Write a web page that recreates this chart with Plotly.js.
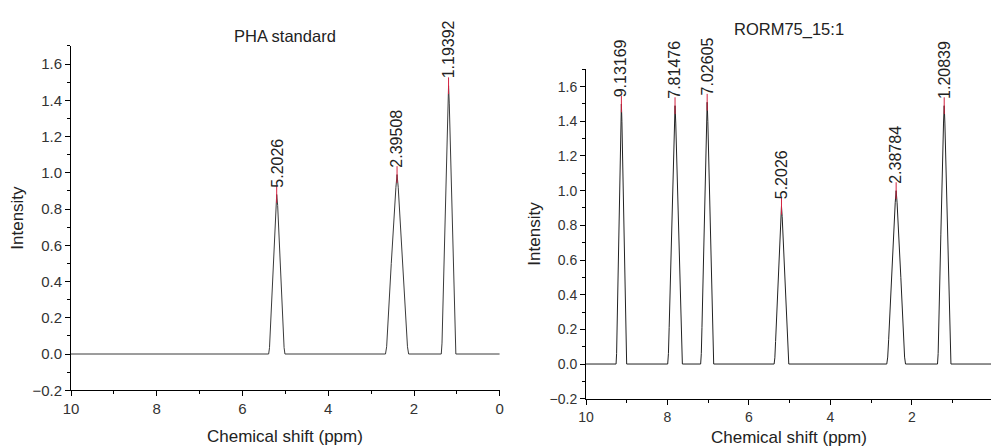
<!DOCTYPE html>
<html>
<head>
<meta charset="utf-8">
<script src="https://cdn.plot.ly/plotly-3.0.1.min.js"></script>
<style>
  html, body { margin: 0; padding: 0; background: #ffffff; }
  #chart { width: 991px; height: 448px; }
</style>
</head>
<body>
<div id="chart"></div>
<script>
// ---------- DATA ----------
// Panel 1: PHA standard spectrum
const phaShift = [10, 5.39, 5.37, 5.35, 5.30, 5.22, 5.2026, 5.18, 5.11, 5.05, 5.03, 5.01,
  2.665, 2.638, 2.611, 2.53, 2.422, 2.39508, 2.368, 2.26, 2.179, 2.152, 2.125,
  1.364, 1.347, 1.33, 1.279, 1.211, 1.19392, 1.177, 1.109, 1.058, 1.041, 1.024, 0];
const phaIntensity = [0, 0, 0.035, 0.13, 0.44, 0.82, 0.88, 0.82, 0.44, 0.13, 0.035, 0,
  0, 0.04, 0.14, 0.5, 0.92, 0.99, 0.92, 0.5, 0.14, 0.04, 0,
  0, 0.06, 0.21, 0.74, 1.38, 1.48, 1.38, 0.74, 0.21, 0.06, 0, 0];
const phaPeakShift = [5.2026, 2.39508, 1.19392];
const phaPeakIntensity = [0.88, 0.99, 1.48];
const phaPeakLabels = ["5.2026", "2.39508", "1.19392"];

// Panel 2: RORM75_15:1 spectrum
const rormShift = [10, 9.262, 9.249, 9.236, 9.197, 9.145, 9.13169, 9.119, 9.067, 9.028, 9.015, 9.002,
  7.995, 7.977, 7.959, 7.905, 7.833, 7.81476, 7.797, 7.725, 7.671, 7.653, 7.635,
  7.186, 7.170, 7.154, 7.106, 7.042, 7.02605, 7.010, 6.946, 6.898, 6.882, 6.866,
  5.383, 5.365, 5.347, 5.293, 5.221, 5.2026, 5.185, 5.113, 5.059, 5.041, 5.023,
  2.618, 2.595, 2.572, 2.503, 2.411, 2.38784, 2.365, 2.273, 2.204, 2.181, 2.158,
  1.373, 1.357, 1.340, 1.291, 1.225, 1.20839, 1.192, 1.126, 1.076, 1.060, 1.043, 0];
const rormIntensity = [0, 0, 0.06, 0.21, 0.75, 1.40, 1.50, 1.40, 0.75, 0.21, 0.06, 0,
  0, 0.06, 0.21, 0.745, 1.39, 1.49, 1.39, 0.745, 0.21, 0.06, 0,
  0, 0.06, 0.21, 0.755, 1.40, 1.51, 1.40, 0.755, 0.21, 0.06, 0,
  0, 0.036, 0.13, 0.455, 0.85, 0.91, 0.85, 0.455, 0.13, 0.036, 0,
  0, 0.04, 0.14, 0.5, 0.93, 1.0, 0.93, 0.5, 0.14, 0.04, 0,
  0, 0.06, 0.21, 0.745, 1.39, 1.49, 1.39, 0.745, 0.21, 0.06, 0, 0];
const rormPeakShift = [9.13169, 7.81476, 7.02605, 5.2026, 2.38784, 1.20839];
const rormPeakIntensity = [1.50, 1.49, 1.51, 0.91, 1.0, 1.49];
const rormPeakLabels = ["9.13169", "7.81476", "7.02605", "5.2026", "2.38784", "1.20839"];

const panelTitles = ["PHA standard", "RORM75_15:1"];
const xTitle = "Chemical shift (ppm)";
const yTitle = "Intensity";

// ---------- STYLE ----------
const FONT = "'Liberation Sans', Arial, sans-serif";
const W = 991, H = 448;
const RED = '#d3213f';
const px2x = p => p / W;
const px2y = p => (H - p) / H;

const traces = [
  { x: phaShift, y: phaIntensity, xaxis: 'x', yaxis: 'y', type: 'scatter', mode: 'lines',
    line: { color: '#3a3a3a', width: 1 }, hoverinfo: 'skip' },
  { x: rormShift, y: rormIntensity, xaxis: 'x2', yaxis: 'y2', type: 'scatter', mode: 'lines',
    line: { color: '#222222', width: 1 }, hoverinfo: 'skip' },
  // red peak-pick tick marks
  { x: phaPeakShift, y: phaPeakIntensity, xaxis: 'x', yaxis: 'y', type: 'scatter', mode: 'markers',
    marker: { symbol: 'line-ns-open', size: 12, color: RED, line: { color: RED, width: 1 } }, hoverinfo: 'skip' },
  { x: rormPeakShift, y: rormPeakIntensity, xaxis: 'x2', yaxis: 'y2', type: 'scatter', mode: 'markers',
    marker: { symbol: 'line-ns-open', size: 12, color: RED, line: { color: RED, width: 1 } }, hoverinfo: 'skip' }
];

function xAxis(domain, range, anchor, fs) {
  return {
    domain: domain, range: range, anchor: anchor,
    tick0: 0, dtick: 2, ticks: 'outside', ticklen: 5, tickwidth: 1, tickcolor: '#000',
    showline: true, linecolor: '#000', linewidth: 1, showgrid: false, zeroline: false,
    minor: { dtick: 1, tick0: 0, ticks: 'outside', ticklen: 3, tickwidth: 1, tickcolor: '#000', showgrid: false },
    tickfont: { family: FONT, size: fs, color: '#333' },
    fixedrange: true
  };
}
function yAxis(domain, anchor, fs, standoff) {
  return {
    domain: domain, range: [-0.2, 1.7], anchor: anchor,
    tick0: 0, dtick: 0.2, tickformat: '.1f', ticks: 'outside', ticklen: 5, tickwidth: 1, tickcolor: '#000',
    showline: true, linecolor: '#000', linewidth: 1, showgrid: false, zeroline: false,
    minor: { dtick: 0.1, tick0: 0, ticks: 'outside', ticklen: 3, tickwidth: 1, tickcolor: '#000', showgrid: false },
    tickfont: { family: FONT, size: fs, color: '#333' },
    title: { text: yTitle, font: { family: FONT, size: 17, color: '#222' }, standoff: standoff },
    fixedrange: true
  };
}

const annotations = [];
function addPeakLabels(xs, ys, labels, xref, yref) {
  for (let i = 0; i < xs.length; i++) {
    annotations.push({
      x: xs[i], y: ys[i], xref: xref, yref: yref,
      text: labels[i], textangle: -90, showarrow: false,
      xanchor: 'center', yanchor: 'bottom', yshift: 6, borderpad: 0,
      font: { family: FONT, size: 16, color: '#222' }
    });
  }
}
addPeakLabels(phaPeakShift, phaPeakIntensity, phaPeakLabels, 'x', 'y');
addPeakLabels(rormPeakShift, rormPeakIntensity, rormPeakLabels, 'x2', 'y2');

// panel titles
annotations.push({
  xref: 'x domain', yref: 'paper', x: 0.5, y: px2y(36), xanchor: 'center', yanchor: 'middle',
  text: panelTitles[0], showarrow: false, font: { family: FONT, size: 16.5, color: '#222' }
});
annotations.push({
  xref: 'x2 domain', yref: 'paper', x: 0.5, y: px2y(29), xanchor: 'center', yanchor: 'middle',
  text: panelTitles[1], showarrow: false, font: { family: FONT, size: 16.5, color: '#222' }
});
// x-axis titles
annotations.push({
  xref: 'x domain', yref: 'paper', x: 0.5, y: px2y(436), xanchor: 'center', yanchor: 'middle',
  text: xTitle, showarrow: false, font: { family: FONT, size: 17, color: '#222' }
});
annotations.push({
  xref: 'x2 domain', yref: 'paper', x: 0.5, y: px2y(437), xanchor: 'center', yanchor: 'middle',
  text: xTitle, showarrow: false, font: { family: FONT, size: 17, color: '#222' }
});

const layout = {
  width: W, height: H,
  margin: { l: 0, r: 0, t: 0, b: 0 },
  paper_bgcolor: '#ffffff', plot_bgcolor: 'rgba(0,0,0,0)',
  showlegend: false, hovermode: false,
  xaxis: xAxis([px2x(71), px2x(499.75)], [10, 0], 'y', 15),
  yaxis: yAxis([px2y(390.25), px2y(45.9)], 'x', 15, 4),
  xaxis2: xAxis([px2x(586), 1], [10, 0.06], 'y2', 14),
  yaxis2: yAxis([px2y(398.7), px2y(69.3)], 'x2', 14, 4),
  annotations: annotations
};

Plotly.newPlot('chart', traces, layout, { staticPlot: true, displayModeBar: false });
</script>
</body>
</html>
